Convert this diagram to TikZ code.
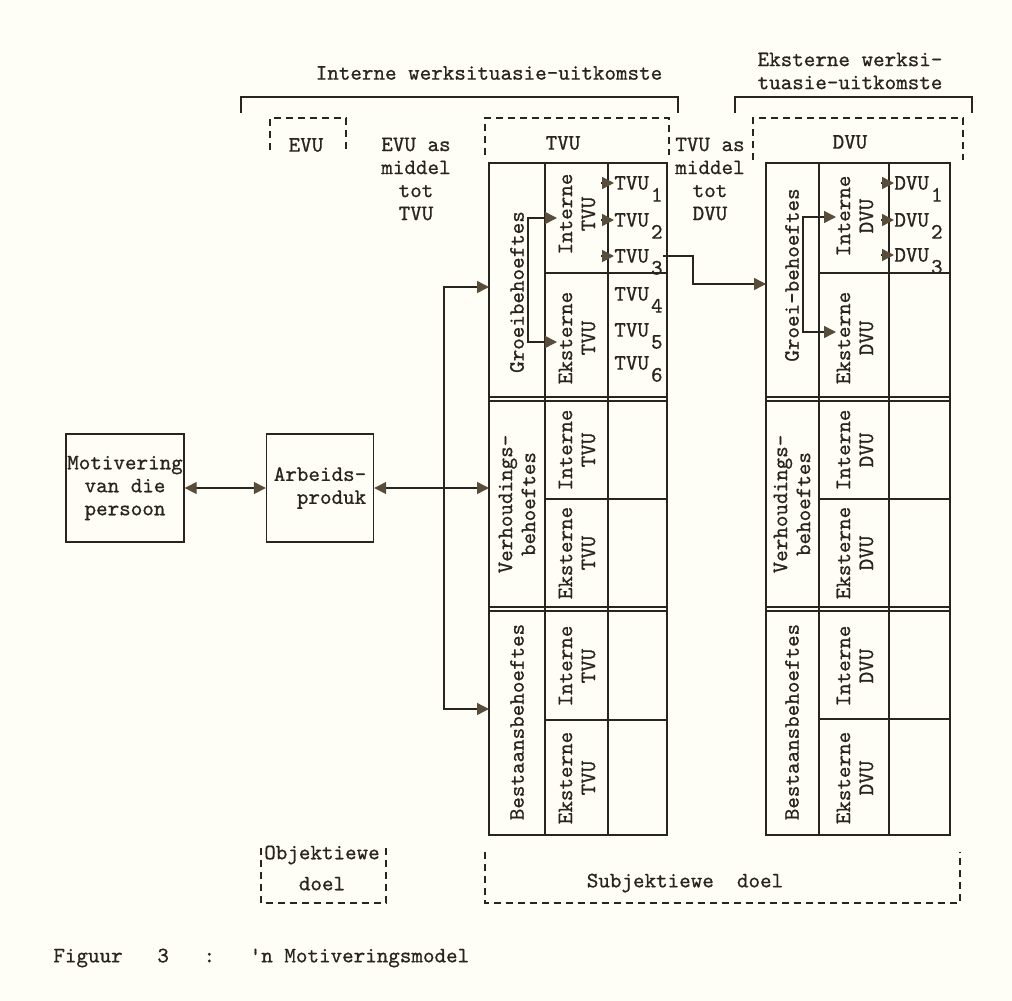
\documentclass[tikz,border=0pt]{standalone}
\usepackage{fontspec}
\setmonofont{Latin Modern Mono}[FakeBold=0.7]
\usepackage{tikz}
\usetikzlibrary{arrows.meta, calc, positioning}
\usepackage{xcolor}
\definecolor{paper}{RGB}{255,254,246}
\definecolor{ink}{RGB}{40,36,32}
\definecolor{tipbrown}{RGB}{88,76,58}
\newcommand{\vusub}[1]{\smash{\kern1pt\lower6pt\hbox{#1}}}

\begin{document}
\begin{tikzpicture}[x=0.5pt, y=-0.5pt,
  lbl/.style={font=\ttfamily\fontsize{11}{11.5}\selectfont, text=ink, inner sep=0pt, align=center},
  vlbl/.style={lbl, rotate=90},
  tline/.style={draw=ink, line width=0.7pt},
  dashbox/.style={draw=ink, line width=0.7pt, dash pattern=on 3.5pt off 2.5pt},
  box/.style={lbl, draw=ink, line width=0.7pt, minimum width=59pt, minimum height=54pt},
  arr/.style={tline, -{Triangle[length=6pt, width=6pt, color=tipbrown]}},
  dblarr/.style={tline, {Triangle[length=6pt, width=6pt, color=tipbrown]}-{Triangle[length=6pt, width=6pt, color=tipbrown]}}]
\useasboundingbox (0,0) rectangle (1012,1001);
\fill[paper] (0,0) rectangle (1012,1001);

% headings and brackets
\node[lbl] (intern) at (489,73) {Interne werksituasie-uitkomste};
\node[lbl] (ekstern) at (850,71) {Eksterne werksi-\\tuasie-uitkomste};
\draw[tline] (241,113) |- (678,97) -- (678,113);
\draw[tline] (735,113) |- (972,97) -- (972,113);

\draw[dashbox] (270,150) |- (346,118) -- (346,150);
\draw[dashbox] (485,155) |- (669,118) -- (669,155);
\draw[dashbox] (753,160) |- (963,118) -- (963,160);
\node[lbl] (evu) at (306,145) {EVU};
\node[lbl] (tvu) at (563,143) {TVU};
\node[lbl] (dvu) at (850,142) {DVU};
\node[lbl] (evumid) at (416,179) {EVU as\\middel\\tot\\TVU};
\node[lbl] (tvumid) at (710,179) {TVU as\\middel\\tot\\DVU};

% left table
\draw[tline] (489,163) rectangle (667,835);
\draw[tline] (545,163) -- (545,835) (608,163) -- (608,835);
\draw[tline] (489,397) -- (667,397) (489,401) -- (667,401)
  (489,607) -- (667,607) (489,611) -- (667,611);
\draw[tline] (545,273) -- (667,273) (545,499) -- (667,499) (545,720) -- (667,720);
\node[vlbl] (groei) at (517,292) {Groeibehoeftes};
\node[vlbl] (verh) at (517,504) {Verhoudings-\\behoeftes};
\node[vlbl] (best) at (517,722) {Bestaansbehoeftes};
\node[vlbl] (tin1) at (577,214) {Interne\\TVU};
\node[vlbl] (tek1) at (577,338) {Eksterne\\TVU};
\node[vlbl] (tin2) at (577,450) {Interne\\TVU};
\node[vlbl] (tek2) at (577,553) {Eksterne\\TVU};
\node[vlbl] (tin3) at (577,666) {Interne\\TVU};
\node[vlbl] (tek3) at (577,778) {Eksterne\\TVU};
\node[lbl, anchor=west] (tvu1) at (614,183) {TVU\vusub{1}};
\node[lbl, anchor=west] (tvu2) at (614,220) {TVU\vusub{2}};
\node[lbl, anchor=west] (tvu3) at (614,256) {TVU\vusub{3}};
\node[lbl, anchor=west] (tvu4) at (614,294) {TVU\vusub{4}};
\node[lbl, anchor=west] (tvu5) at (614,330) {TVU\vusub{5}};
\node[lbl, anchor=west] (tvu6) at (614,363) {TVU\vusub{6}};

% right table
\draw[tline] (766,163) rectangle (950,835);
\draw[tline] (819,163) -- (819,835) (889,163) -- (889,835);
\draw[tline] (766,397) -- (950,397) (766,401) -- (950,401)
  (766,607) -- (950,607) (766,611) -- (950,611);
\draw[tline] (819,273) -- (950,273) (819,499) -- (950,499) (819,719) -- (950,719);
\node[vlbl] (dgroei) at (792,275) {Groei-behoeftes};
\node[vlbl] (dverh) at (792,504) {Verhoudings-\\behoeftes};
\node[vlbl] (dbest) at (792,722) {Bestaansbehoeftes};
\node[vlbl] (din1) at (855,216) {Interne\\DVU};
\node[vlbl] (dek1) at (855,338) {Eksterne\\DVU};
\node[vlbl] (din2) at (855,450) {Interne\\DVU};
\node[vlbl] (dek2) at (855,553) {Eksterne\\DVU};
\node[vlbl] (din3) at (855,666) {Interne\\DVU};
\node[vlbl] (dek3) at (855,778) {Eksterne\\DVU};
\node[lbl, anchor=west] (dvu1) at (894,183) {DVU\vusub{1}};
\node[lbl, anchor=west] (dvu2) at (894,220) {DVU\vusub{2}};
\node[lbl, anchor=west] (dvu3) at (894,255) {DVU\vusub{3}};

% persoon and produk
\node[box] (mot) at (125,488) {Motivering\\van die\\persoon};
\node[box, minimum width=53.5pt, align=right] (arb) at (320,488) {Arbeids-\\produk};

% connectors
\coordinate (jn) at (444,488);
\coordinate (ngroei) at (489,287);
\coordinate (nverh) at (489,488);
\coordinate (nbest) at (489,709);
\draw[dblarr] (mot) -- (arb);
\draw[dblarr] (arb) -- (nverh);
\draw[arr] (jn) |- (ngroei);
\draw[arr] (jn) |- (nbest);

\coordinate (ls) at (528,280);
\coordinate (ti1) at (557,218);
\coordinate (te1) at (557,342);
\draw[arr] (ls) |- (ti1);
\draw[arr] (ls) |- (te1);
\foreach \n in {tvu1, tvu2, tvu3}
  \draw[arr] ($(\n.west)+(-13,0)$) -- (\n.west);

\coordinate (bend) at (693,270);
\coordinate (dgin) at (766,284);
\draw[arr] (tvu3.east) -| (bend) |- (dgin);

\coordinate (rs) at (803,275);
\coordinate (di1) at (836,217);
\coordinate (de1) at (836,332);
\draw[arr] (rs) |- (di1);
\draw[arr] (rs) |- (de1);
\foreach \n in {dvu1, dvu2, dvu3}
  \draw[arr] ($(\n.west)+(-13,0)$) -- (\n.west);

% doel
\draw[dashbox] (261,848) |- (386,903) -- (386,848);
\draw[dashbox] (485,852) |- (960,903) -- (960,852);
\node[lbl] (obj) at (322,868) {Objektiewe\\[4pt]doel};
\node[lbl] (subj) at (685,883) {Subjektiewe\ \ doel};

\node[lbl, anchor=west] (cap) at (53,958) {Figuur\ \ \ 3\ \ \ :\ \ \ \textquotesingle n Motiveringsmodel};
\end{tikzpicture}
\end{document}
